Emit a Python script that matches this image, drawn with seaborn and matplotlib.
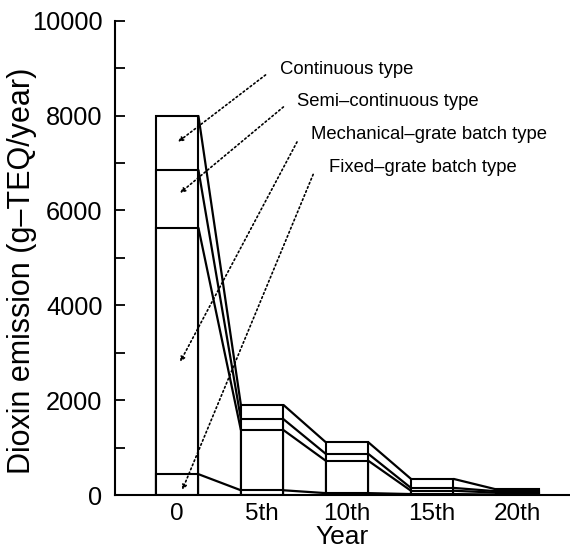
import numpy as np
import pandas as pd
import matplotlib
matplotlib.use("Agg")
import matplotlib.pyplot as plt
import seaborn as sns

# ── Data (g-TEQ/year) ────────────────────────────────────────────────────────
years = ["0", "5th", "10th", "15th", "20th"]
fixed_grate = [440, 100, 40, 20, 10]
mechanical_grate = [5200, 1270, 680, 70, 40]
semi_continuous = [1220, 230, 145, 60, 30]
continuous = [1140, 300, 245, 190, 40]

series_names = ["Fixed–grate batch type", "Mechanical–grate batch type",
                "Semi–continuous type", "Continuous type"]
series_vals = [fixed_grate, mechanical_grate, semi_continuous, continuous]

cum = np.cumsum(np.array(series_vals), axis=0)   # rows: levels bottom→top

sns.set_style("ticks")
plt.rcParams["font.family"] = ["Liberation Sans", "DejaVu Sans"]

fig = plt.figure(figsize=(5.7, 5.51), dpi=100)
ax = fig.add_axes([0.2018, 0.1016, 0.7982, 0.8608])

BW = 0.5
# stacked bars drawn as overlaid cumulative totals, tallest first
for level in range(cum.shape[0] - 1, -1, -1):
    df = pd.DataFrame({"year": years, "value": cum[level]})
    sns.barplot(data=df, x="year", y="value", order=years, color="white",
                saturation=1, edgecolor="black", linewidth=1.5, width=BW,
                errorbar=None, ax=ax)

# connecting lines between neighbouring bars at each stack boundary
for level in range(cum.shape[0]):
    for i in range(len(years) - 1):
        ax.plot([i + BW / 2, i + 1 - BW / 2], [cum[level][i], cum[level][i + 1]],
                color="black", lw=1.6, solid_capstyle="butt")

# labels with dotted arrows
labels_xy = [(1.79, 6896), (1.58, 7591), (1.41, 8287), (1.21, 8962)]
tails = [(1.60, 6760), (1.41, 7444), (1.25, 8182), (1.04, 8857)]
heads = [(0.06, 105), (0.035, 2805), (0.035, 6369), (0.01, 7444)]
for name, (tx, ty), tail, head in zip(series_names, labels_xy, tails, heads):
    ax.text(tx, ty, name, fontsize=13.3, ha="left", va="center", color="black")
    ax.annotate("", xy=head, xytext=tail,
                arrowprops=dict(arrowstyle="-|>", linestyle=":", lw=1.2,
                                color="black", mutation_scale=7,
                                shrinkA=0, shrinkB=0))

ax.set_xlim(-0.73, 4.62)
ax.set_ylim(0, 10000)
ax.set_yticks(np.arange(0, 10001, 2000))
ax.set_yticks(np.arange(1000, 10000, 2000), minor=True)
ax.tick_params(axis="y", which="both", direction="in", length=7, width=1.3,
               labelsize=18.3, pad=9, colors="black")
ax.tick_params(axis="x", length=0, labelsize=17.5, pad=6, colors="black")

ax.set_xlabel("Year", fontsize=19, labelpad=0, color="black")
ax.set_ylabel("Dioxin emission (g–TEQ/year)", fontsize=22, color="black")
ax.yaxis.set_label_coords(-0.172, 0.472)

for side in ["top", "right"]:
    ax.spines[side].set_visible(False)
for side in ["left", "bottom"]:
    ax.spines[side].set_linewidth(1.5)
    ax.spines[side].set_color("black")

fig.savefig("out.png", dpi=100)
